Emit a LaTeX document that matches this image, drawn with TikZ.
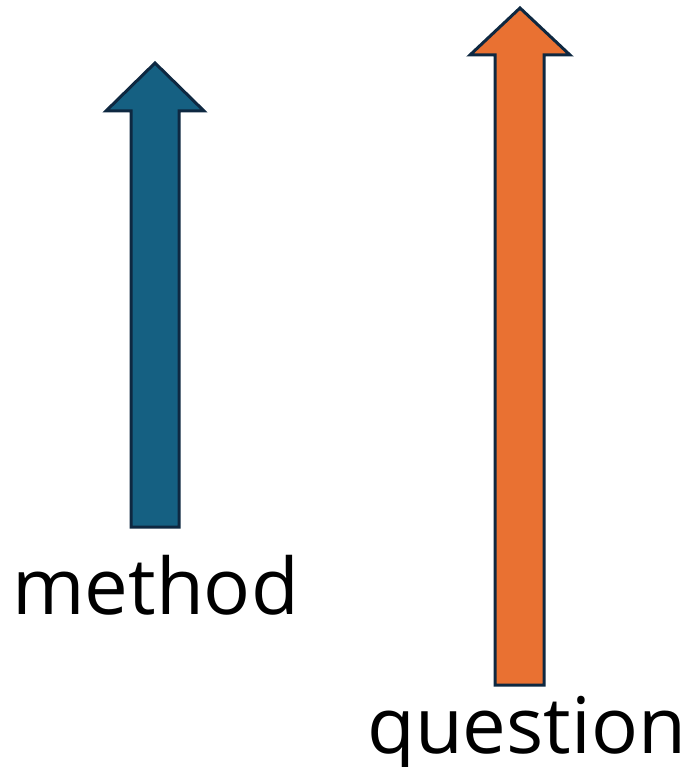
\documentclass[tikz,border=0pt]{standalone}
\usepackage{fontspec}
\setmainfont{Open Sans}
\definecolor{arrowblue}{HTML}{156082}
\definecolor{arroworange}{HTML}{E97132}
\definecolor{outline}{HTML}{0E2841}
\begin{document}
\begin{tikzpicture}[x=1pt,y=-1pt,
  bigarrow/.style={draw=outline, line width=3pt, line join=miter},
  label/.style={inner sep=0pt, anchor=base west, font=\fontsize{78}{84}\selectfont}]
\useasboundingbox (0,0) rectangle (697,767);
% blue arrow
\path[bigarrow, fill=arrowblue] (131,527) -- (131,111) -- (106,111) -- (155,63) -- (204,111) -- (179,111) -- (179,527) -- cycle;
% orange arrow
\path[bigarrow, fill=arroworange] (495,685) -- (495,55) -- (470,55) -- (520,8) -- (570,55) -- (544,55) -- (544,685) -- cycle;
\node[label] (method) at (12,614) {method};
\node[label] (question) at (367,753) {question};
\end{tikzpicture}
\end{document}
